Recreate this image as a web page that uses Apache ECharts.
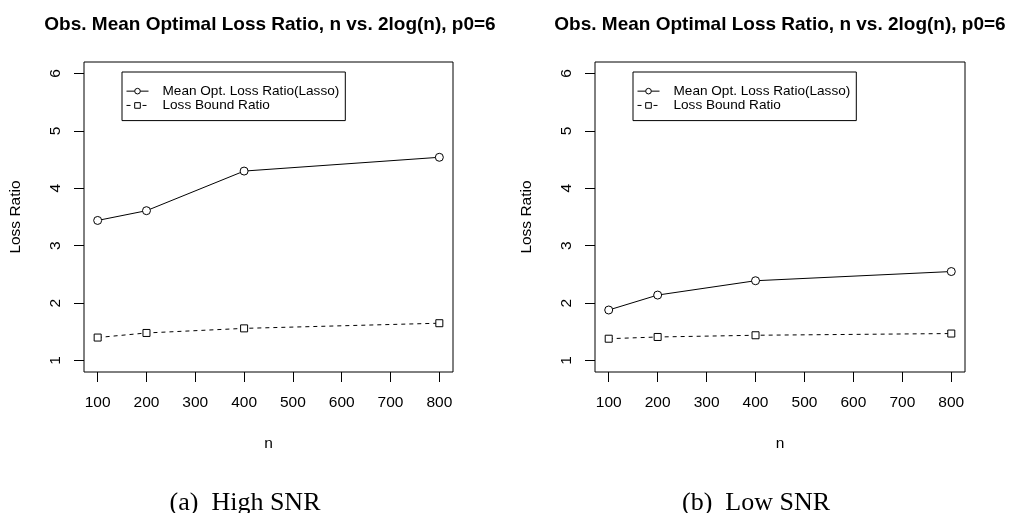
<!DOCTYPE html>
<html>
<head>
<meta charset="UTF-8">
<title>Loss Ratio</title>
<script src="https://cdn.jsdelivr.net/npm/echarts@6/dist/echarts.min.js"></script>
<style>
  html, body { margin: 0; padding: 0; background: #fff; }
  #main { width: 1009px; height: 513px; }
</style>
</head>
<body>
<div id="main"></div>
<script>
// data
const nValues = [100, 200, 400, 800];
const highLasso = [3.44, 3.61, 4.30, 4.54];
const highBound = [1.40, 1.48, 1.56, 1.65];
const lowLasso = [1.88, 2.14, 2.39, 2.55];
const lowBound = [1.38, 1.41, 1.44, 1.47];
const xTicks = [100, 200, 300, 400, 500, 600, 700, 800];
const yTicks = [1, 2, 3, 4, 5, 6];
const panelTitle = 'Obs. Mean Optimal Loss Ratio, n vs. 2log(n), p0=6';
const captions = ['(a)  High SNR', '(b)  Low SNR'];
const lassoName = 'Mean Opt. Loss Ratio(Lasso)';
const boundName = 'Loss Bound Ratio';

const font = '"Liberation Sans", Arial, sans-serif';
const pairs = (ys) => nValues.map((n, i) => [n, ys[i]]);

function xAxisFor(idx) {
    return {
        gridIndex: idx, type: 'value', min: 72, max: 828,
        name: 'n', nameLocation: 'middle', nameGap: 64,
        nameTextStyle: { color: '#000', fontFamily: font, fontSize: 15.5 },
        axisLine: { show: false },
        axisTick: { show: true, inside: false, length: 10, customValues: xTicks,
            lineStyle: { color: '#000', width: 1 } },
        axisLabel: { show: true, customValues: xTicks, margin: 23,
            color: '#000', fontFamily: font, fontSize: 15.5 },
        splitLine: { show: false }
    };
}
function yAxisFor(idx) {
    return {
        gridIndex: idx, type: 'value', min: 0.8, max: 6.2,
        name: 'Loss Ratio', nameLocation: 'middle', nameGap: 60, nameRotate: 90,
        nameTextStyle: { color: '#000', fontFamily: font, fontSize: 15.5 },
        axisLine: { show: false },
        axisTick: { show: true, length: 10, customValues: yTicks,
            lineStyle: { color: '#000', width: 1 } },
        axisLabel: { show: true, customValues: yTicks, rotate: 90, margin: 20,
            color: '#000', fontFamily: font, fontSize: 15.5 },
        splitLine: { show: false }
    };
}
function seriesFor(idx, name, ys, dashed, sym, size) {
    return {
        name: name, type: 'line', xAxisIndex: idx, yAxisIndex: idx,
        data: pairs(ys), symbol: sym, symbolSize: size, showSymbol: true,
        lineStyle: { color: '#000', width: 1, type: dashed ? [4, 4] : 'solid' },
        itemStyle: { color: '#fff', borderColor: '#000', borderWidth: 1 }
    };
}
function legendFor(left) {
    return {
        left: left, top: 72, orient: 'vertical',
        data: [lassoName, boundName],
        itemWidth: 22, itemHeight: 7, itemGap: 0,
        padding: [12, 6, 8, 4],
        borderColor: '#000', borderWidth: 1, borderRadius: 0,
        backgroundColor: '#fff',
        lineStyle: { width: 1 },
        itemStyle: { borderWidth: 1 },
        textStyle: { color: '#000', fontFamily: font, fontSize: 13.6, lineHeight: 14.3,
            padding: [0, 0, 0, 9] },
        selectedMode: false
    };
}

const chart = echarts.init(document.getElementById('main'));
chart.setOption({
    animation: false,
    backgroundColor: '#fff',
    title: [
        { text: panelTitle, left: 265, top: 10, textAlign: 'center',
          textStyle: { color: '#000', fontFamily: font, fontSize: 19, fontWeight: 'bold' } },
        { text: panelTitle, left: 775, top: 10, textAlign: 'center',
          textStyle: { color: '#000', fontFamily: font, fontSize: 19, fontWeight: 'bold' } },
        { text: captions[0], left: 240, top: 485, textAlign: 'center',
          textStyle: { color: '#000', fontFamily: '"Liberation Serif", serif', fontSize: 26, fontWeight: 'normal' } },
        { text: captions[1], left: 751, top: 485, textAlign: 'center',
          textStyle: { color: '#000', fontFamily: '"Liberation Serif", serif', fontSize: 26, fontWeight: 'normal' } }
    ],
    legend: [legendFor(122), legendFor(633)],
    grid: [
        { left: 84, top: 62, width: 369, height: 310, show: true, borderColor: '#000', borderWidth: 1, backgroundColor: 'transparent' },
        { left: 595, top: 62, width: 370, height: 310, show: true, borderColor: '#000', borderWidth: 1, backgroundColor: 'transparent' }
    ],
    xAxis: [xAxisFor(0), xAxisFor(1)],
    yAxis: [yAxisFor(0), yAxisFor(1)],
    series: [
        seriesFor(0, lassoName, highLasso, false, 'circle', 8),
        seriesFor(0, boundName, highBound, true, 'rect', 7),
        seriesFor(1, lassoName, lowLasso, false, 'circle', 8),
        seriesFor(1, boundName, lowBound, true, 'rect', 7)
    ]
});
</script>
</body>
</html>
